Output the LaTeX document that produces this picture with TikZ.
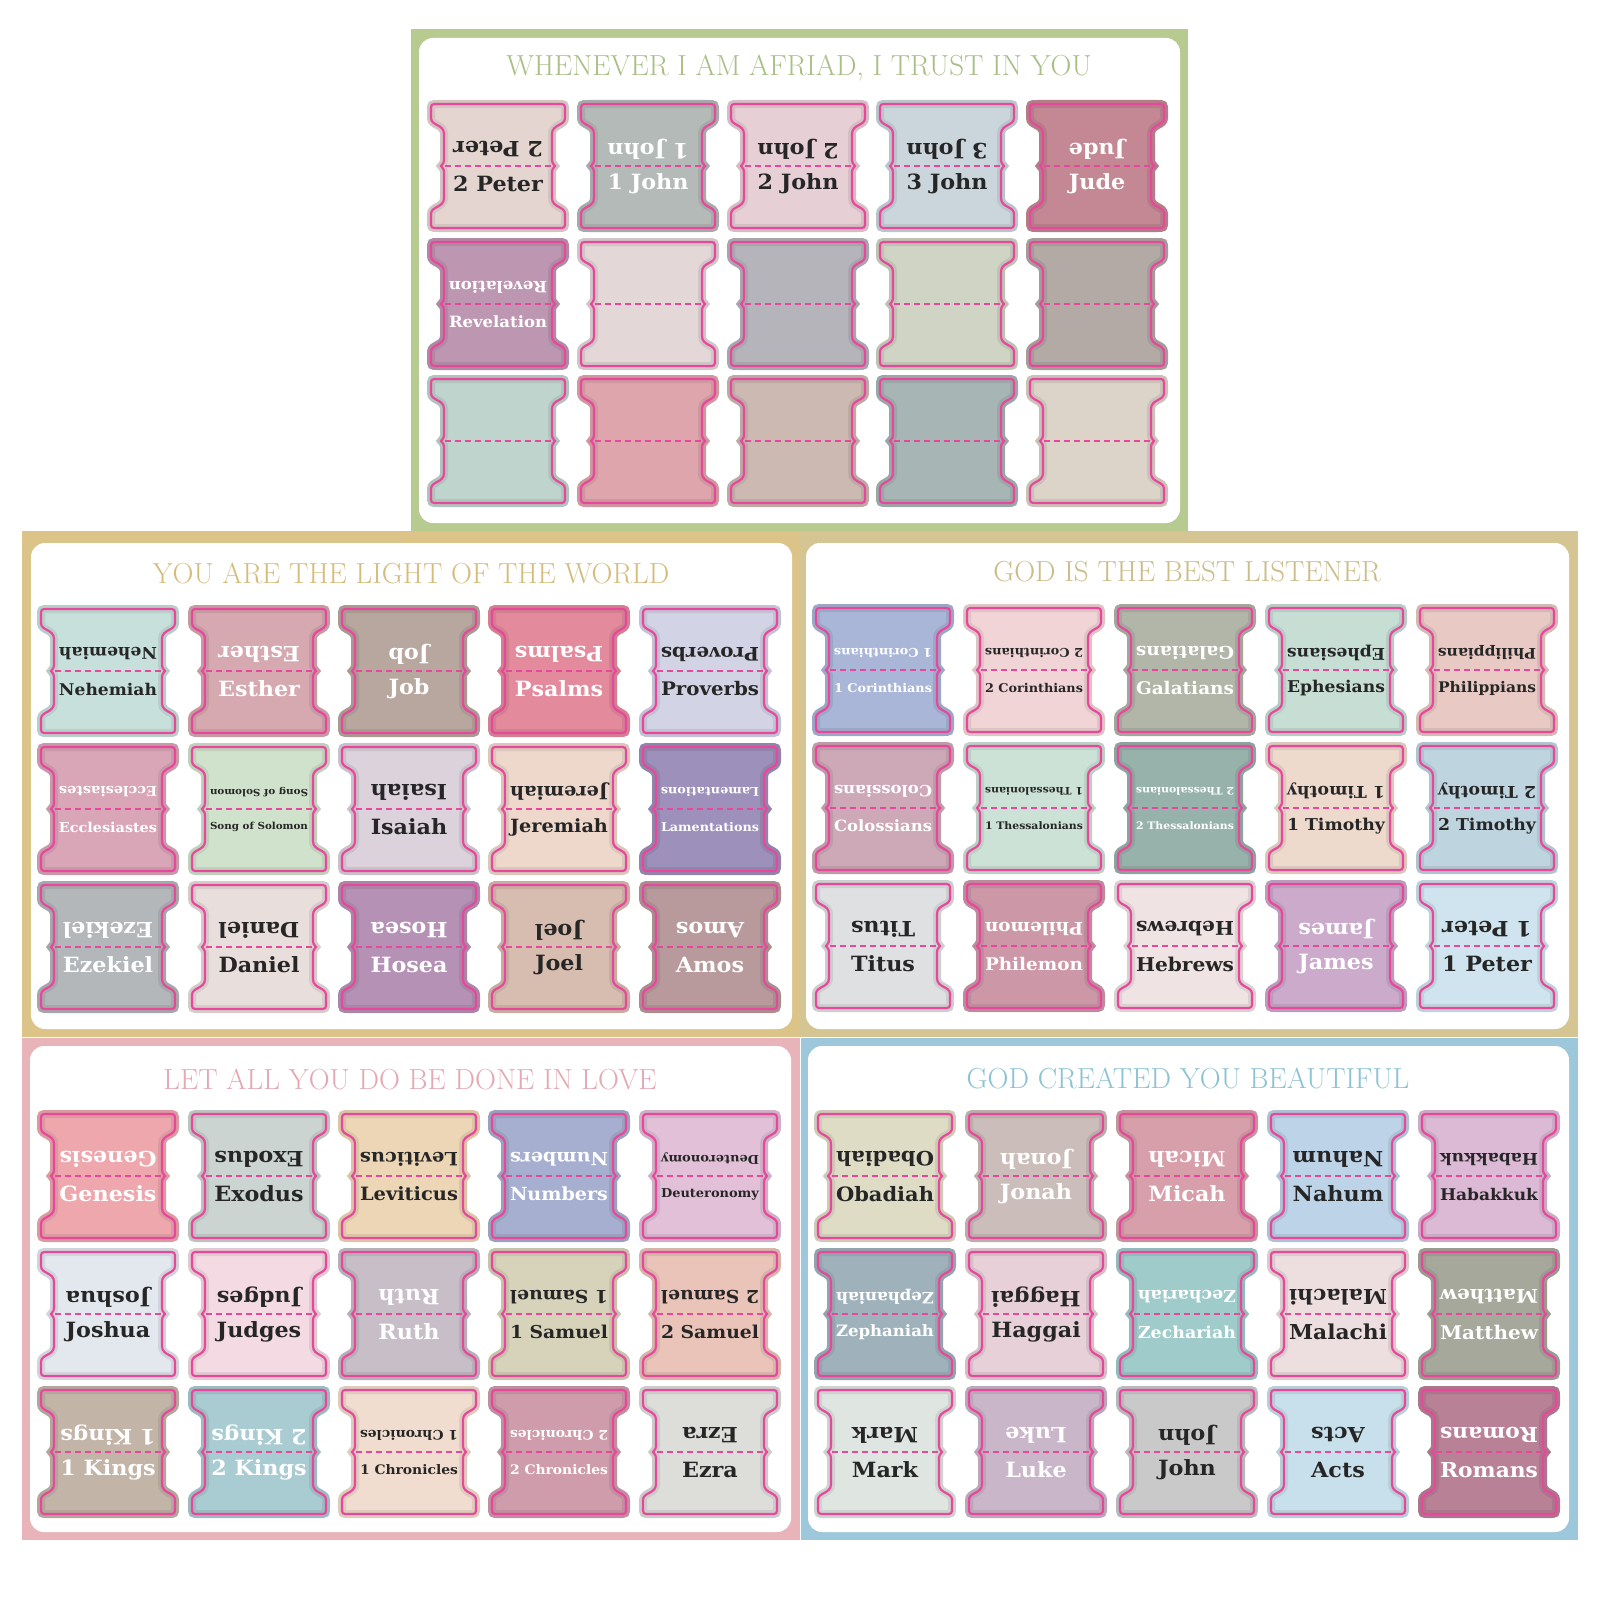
\documentclass[tikz,border=0pt]{standalone}
\usepackage{fontspec}
\usepackage{graphicx}
\usepackage{tikz}
\newfontfamily\tabfont{DejaVu Serif}

\definecolor{tabpink}{HTML}{E8489B}
\definecolor{ink}{HTML}{262626}
\definecolor{greenband}{HTML}{B7CA8F}
\definecolor{greentitle}{HTML}{AABF86}
\definecolor{goldband}{HTML}{DCC488}
\definecolor{goldtitle}{HTML}{D6BC7C}
\definecolor{khakiband}{HTML}{D4C592}
\definecolor{khakititle}{HTML}{CBBC88}
\definecolor{roseband}{HTML}{E8B4BA}
\definecolor{rosetitle}{HTML}{E4A8B2}
\definecolor{skyband}{HTML}{9DC7DA}
\definecolor{skytitle}{HTML}{8CC3D4}

\tikzset{
  tabline/.style={draw=tabpink, line width=2.2pt},
  tabcut/.style={draw=tabpink, line width=1.8pt, dash pattern=on 6pt off 4pt},
  booklabel/.style={font=\tabfont\bfseries\fontsize{21}{24}\selectfont, inner sep=0pt},
  paneltitle/.style={font=\fontsize{29}{32}\selectfont, inner sep=0pt},
  panelwhite/.style={fill=white, rounded corners=14pt},
}

\newcommand{\tabpath}{(7,0) -- (127,0) .. controls (134,0) .. (134,7) -- (134,14)
  .. controls (134,22) and (121,20) .. (121,30) -- (121,56)
  .. controls (121,60) and (124,61) .. (124,62) .. controls (124,63) and (121,64) .. (121,68)
  -- (121,94) .. controls (121,104) and (134,102) .. (134,110) -- (134,117)
  .. controls (134,124) .. (127,124) -- (7,124) .. controls (0,124) .. (0,117) -- (0,110)
  .. controls (0,102) and (13,104) .. (13,94) -- (13,68)
  .. controls (13,64) and (10,63) .. (10,62) .. controls (10,61) and (13,60) .. (13,56)
  -- (13,30) .. controls (13,20) and (0,22) .. (0,14) -- (0,7) .. controls (0,0) .. (7,0) -- cycle}

\newcommand{\fitname}[1]{\sbox0{\scalebox{1.06}[1]{#1}}\ifdim\wd0>98pt\resizebox{98pt}{!}{\usebox0}\else\usebox0\fi}

\newcommand{\booktab}[6]{%
  \definecolor{tabfill}{HTML}{#4}%
  \begin{scope}[shift={(#2,#3)}]
    \path[draw=tabfill!92!black, line width=8pt, fill=tabfill] \tabpath;
    \draw[tabline] \tabpath;
    \draw[tabcut] (14,62) -- (120,62);
    \node[booklabel, text=#5] (#1) at (67,80) {\fitname{#6}};
    \node[booklabel, text=#5, rotate=180] (#1-up) at (67,45) {\fitname{#6}};
  \end{scope}}

\begin{document}
\begin{tikzpicture}[x=1pt, y=-1pt]
    \useasboundingbox (0,0) rectangle (1600,1600);
    \fill[white] (0,0) rectangle (1600,1600);

    % panels
    \fill[goldband] (22,531) rectangle (800,1037);
    \fill[panelwhite] (31,543) rectangle (792,1029);
    \fill[khakiband] (800,531) rectangle (1578,1037);
    \fill[panelwhite] (806,543) rectangle (1569,1029);
    \fill[roseband] (22,1038) rectangle (800,1540);
    \fill[panelwhite] (30,1046) rectangle (791,1532);
    \fill[skyband] (801,1038) rectangle (1578,1540);
    \fill[panelwhite] (808,1046) rectangle (1569,1532);
    \fill[greenband] (411,29) rectangle (1188,531);
    \fill[panelwhite] (419,38) rectangle (1180,523);

    \node[paneltitle, text=greentitle] (titletrust) at (799,68) {WHENEVER I AM AFRIAD, I TRUST IN YOU};
    \node[paneltitle, text=goldtitle] (titlelight) at (411,573) {YOU ARE THE LIGHT OF THE WORLD};
    \node[paneltitle, text=khakititle] (titlelisten) at (1187,572) {GOD IS THE BEST LISTENER};
    \node[paneltitle, text=rosetitle] (titlelove) at (410,1079) {LET ALL YOU DO BE DONE IN LOVE};
    \node[paneltitle, text=skytitle] (titlebeauty) at (1188,1078) {GOD CREATED YOU BEAUTIFUL};

    % trust
    \booktab{peterII}{431}{104}{E4D5D1}{ink}{2 Peter}
    \booktab{johnI}{581}{104}{B4BAB8}{white}{1 John}
    \booktab{johnII}{731}{104}{E6CFD5}{ink}{2 John}
    \booktab{johnIII}{880}{104}{CAD6DC}{ink}{3 John}
    \booktab{jude}{1030}{104}{C38894}{white}{Jude}
    \booktab{revelation}{431}{242}{BD96B1}{white}{Revelation}
    \booktab{blankA}{581}{242}{E3D7D8}{ink}{}
    \booktab{blankB}{731}{242}{B5B4BB}{ink}{}
    \booktab{blankC}{880}{242}{CFD4C4}{ink}{}
    \booktab{blankD}{1030}{242}{B3A9A5}{ink}{}
    \booktab{blankE}{431}{379}{BFD4CC}{ink}{}
    \booktab{blankF}{581}{379}{DFA5AC}{ink}{}
    \booktab{blankG}{731}{379}{CCB9B2}{ink}{}
    \booktab{blankH}{880}{379}{A7B5B5}{ink}{}
    \booktab{blankI}{1030}{379}{DCD3C9}{ink}{}

    % light
    \booktab{nehemiah}{41}{609}{C7E0DB}{ink}{Nehemiah}
    \booktab{esther}{192}{609}{D5A9AF}{white}{Esther}
    \booktab{job}{342}{609}{B7A79E}{white}{Job}
    \booktab{psalms}{492}{609}{E38B9D}{white}{Psalms}
    \booktab{proverbs}{643}{609}{D3D3E6}{ink}{Proverbs}
    \booktab{ecclesiastes}{41}{747}{D9A6B7}{white}{Ecclesiastes}
    \booktab{song}{192}{747}{D0E2CB}{ink}{Song of Solomon}
    \booktab{isaiah}{342}{747}{DBD2DB}{ink}{Isaiah}
    \booktab{jeremiah}{492}{747}{EDD8CB}{ink}{Jeremiah}
    \booktab{lamentations}{643}{747}{9D90BA}{white}{Lamentations}
    \booktab{ezekiel}{41}{885}{B3B7BA}{white}{Ezekiel}
    \booktab{daniel}{192}{885}{E8DEDC}{ink}{Daniel}
    \booktab{hosea}{342}{885}{B592B5}{white}{Hosea}
    \booktab{joel}{492}{885}{D7BCB0}{ink}{Joel}
    \booktab{amos}{643}{885}{B89A9C}{white}{Amos}

    % listen
    \booktab{corI}{816}{608}{A9B6D8}{white}{1 Corinthians}
    \booktab{corII}{967}{608}{F1D5D6}{ink}{2 Corinthians}
    \booktab{galatians}{1118}{608}{B1B6A8}{white}{Galatians}
    \booktab{ephesians}{1269}{608}{C7DED5}{ink}{Ephesians}
    \booktab{philippians}{1420}{608}{E8C9C3}{ink}{Philippians}
    \booktab{colossians}{816}{746}{CDA8B6}{white}{Colossians}
    \booktab{thessI}{967}{746}{CDE2D6}{ink}{1 Thessalonians}
    \booktab{thessII}{1118}{746}{97B2AB}{white}{2 Thessalonians}
    \booktab{timothyI}{1269}{746}{EED9CD}{ink}{1 Timothy}
    \booktab{timothyII}{1420}{746}{BED5E0}{ink}{2 Timothy}
    \booktab{titus}{816}{884}{DEE0E1}{ink}{Titus}
    \booktab{philemon}{967}{884}{CC98A7}{white}{Philemon}
    \booktab{hebrews}{1118}{884}{EFE3E3}{ink}{Hebrews}
    \booktab{james}{1269}{884}{CBAACC}{white}{James}
    \booktab{peterI}{1420}{884}{CFE4EE}{ink}{1 Peter}

    % love
    \booktab{genesis}{41}{1114}{EEA7AD}{white}{Genesis}
    \booktab{exodus}{192}{1114}{CBD4D0}{ink}{Exodus}
    \booktab{leviticus}{342}{1114}{EDD6B6}{ink}{Leviticus}
    \booktab{numbers}{492}{1114}{A6AFD0}{white}{Numbers}
    \booktab{deuteronomy}{643}{1114}{E1C0D8}{ink}{Deuteronomy}
    \booktab{joshua}{41}{1252}{E3E8EE}{ink}{Joshua}
    \booktab{judges}{192}{1252}{F4DAE2}{ink}{Judges}
    \booktab{ruth}{342}{1252}{C7BEC7}{white}{Ruth}
    \booktab{samuelI}{492}{1252}{D7D3BA}{ink}{1 Samuel}
    \booktab{samuelII}{643}{1252}{EAC4B8}{ink}{2 Samuel}
    \booktab{kingsI}{41}{1390}{C3B4A8}{white}{1 Kings}
    \booktab{kingsII}{192}{1390}{A9CBD2}{white}{2 Kings}
    \booktab{chronI}{342}{1390}{F0DDCF}{ink}{1 Chronicles}
    \booktab{chronII}{492}{1390}{CF9CAB}{white}{2 Chronicles}
    \booktab{ezra}{643}{1390}{DDDEDA}{ink}{Ezra}

    % beauty
    \booktab{obadiah}{818}{1114}{DFDCC6}{ink}{Obadiah}
    \booktab{jonah}{969}{1114}{CBBDB9}{white}{Jonah}
    \booktab{micah}{1120}{1114}{D79FA9}{white}{Micah}
    \booktab{nahum}{1271}{1114}{BDD3E8}{ink}{Nahum}
    \booktab{habakkuk}{1422}{1114}{DCBAD6}{ink}{Habakkuk}
    \booktab{zephaniah}{818}{1252}{9FB2BC}{white}{Zephaniah}
    \booktab{haggai}{969}{1252}{E8D0D8}{ink}{Haggai}
    \booktab{zechariah}{1120}{1252}{A0CBCB}{white}{Zechariah}
    \booktab{malachi}{1271}{1252}{EDDEDF}{ink}{Malachi}
    \booktab{matthew}{1422}{1252}{A5A89A}{white}{Matthew}
    \booktab{mark}{818}{1390}{DFE5E1}{ink}{Mark}
    \booktab{luke}{969}{1390}{CAB6C9}{white}{Luke}
    \booktab{john}{1120}{1390}{C9C9CA}{ink}{John}
    \booktab{acts}{1271}{1390}{C8E0EB}{ink}{Acts}
    \booktab{romans}{1422}{1390}{B98196}{white}{Romans}
\end{tikzpicture}
\end{document}
